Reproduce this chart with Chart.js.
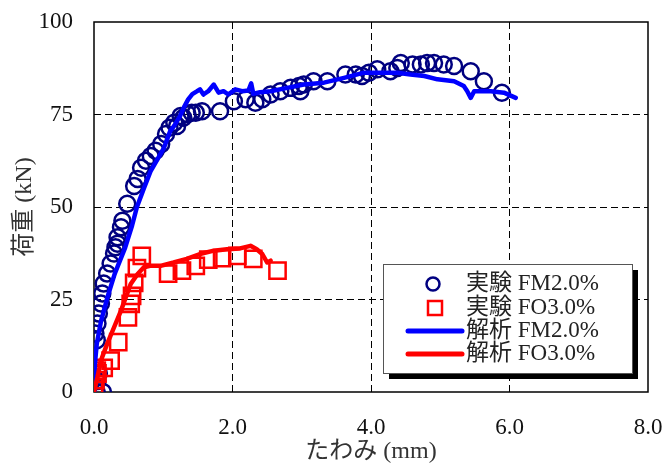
<!DOCTYPE html>
<html>
<head>
<meta charset="utf-8">
<script src="https://cdn.jsdelivr.net/npm/chart.js@4.4.1/dist/chart.umd.min.js"></script>
<style>
  html, body { margin: 0; padding: 0; background: #fff; }
  #wrap { width: 664px; height: 466px; }
</style>
</head>
<body>
<div id="wrap"><canvas id="c" width="664" height="466"></canvas></div>
<script>
// x = deflection (mm), y = load (kN)
const expFM = [
  [0.04, 0], [0.13, 0], [0.05, 3], [0.07, 5], [0.04, 14], [0.02, 15.8],
  [0.05, 18.5], [0.07, 21.2], [0.10, 23.9], [0.12, 26.6], [0.14, 29.3],
  [0.19, 32], [0.24, 34.7], [0.29, 37.4], [0.34, 40.1], [0.31, 39.1],
  [0.34, 41.8], [0.39, 44.5], [0.41, 46.3], [0.48, 50.9], [0.58, 55.7],
  [0.63, 57.6], [0.68, 60.6], [0.75, 62.5], [0.82, 63.8], [0.89, 65.2],
  [0.97, 67], [1.04, 69.7], [1.09, 71.4], [1.16, 72.8], [1.20, 71.9],
  [1.25, 74.6], [1.29, 74.1], [1.35, 75.1], [1.41, 75.5], [1.47, 75.5],
  [1.56, 75.9], [1.82, 75.9], [2.02, 78.6], [2.19, 79.1], [2.33, 78.2],
  [2.43, 79.1], [2.55, 80.4], [2.69, 81.3], [2.84, 82.2], [2.96, 82.7],
  [2.98, 81.3], [3.03, 83.1], [3.17, 84], [3.37, 84], [3.63, 85.8],
  [3.78, 85.8], [3.87, 85.4], [3.97, 86.3], [4.09, 87.2], [4.28, 86.7],
  [4.38, 87.6], [4.43, 88.9], [4.60, 88.5], [4.72, 88.5], [4.81, 88.9],
  [4.91, 88.9], [5.05, 88.5], [5.20, 88.1], [5.44, 86.7], [5.63, 84],
  [5.89, 80.9]
];

const expFO = [
  [0, 1.3], [0.02, 3.2], [0.05, 5], [0.04, 5.8], [0.14, 6.5], [0.24, 8.5],
  [0.35, 13.5], [0.49, 20.2], [0.53, 23.8], [0.55, 26], [0.58, 29.5],
  [0.62, 33.5], [0.69, 36.8], [1.07, 32], [1.27, 32.8], [1.47, 34.1],
  [1.65, 35.8], [1.85, 36.2], [2.07, 36.8], [2.30, 36], [2.65, 32.8]
];

const anaFM = [
  [0, 0], [0.01, 7], [0.04, 13], [0.10, 19], [0.20, 26], [0.30, 32],
  [0.45, 39], [0.55, 45], [0.62, 50], [0.72, 55], [0.82, 59.8], [0.92, 63],
  [1.01, 66], [1.10, 70.5], [1.16, 72], [1.24, 74.5], [1.30, 77],
  [1.36, 79.1], [1.42, 80.5], [1.49, 81.3], [1.53, 81.8], [1.58, 80.4],
  [1.65, 81.3], [1.73, 83.1], [1.80, 80.9], [1.87, 81.3], [1.94, 80.4],
  [2.04, 81.8], [2.14, 81.3], [2.23, 81.5], [2.27, 83.4], [2.30, 80.6],
  [2.40, 81], [2.55, 81.3], [2.79, 82.2], [3.03, 83.1], [3.32, 83.6],
  [3.61, 84.9], [3.90, 86.3], [4.38, 86.3], [4.57, 85.8], [4.77, 85.4],
  [4.96, 84.5], [5.20, 84.0], [5.34, 82.7], [5.39, 81.3], [5.44, 79.5],
  [5.49, 81.3], [5.73, 81.3], [5.92, 80.9], [6.09, 79.5]
];

const anaFO = [
  [0, 0], [0.05, 4], [0.10, 8.5], [0.19, 13], [0.29, 17.5], [0.39, 22],
  [0.46, 25.6], [0.53, 29.2], [0.63, 31.9], [0.72, 33.7], [0.81, 34.1],
  [0.96, 34.1], [1.15, 35], [1.34, 36], [1.53, 37.3], [1.73, 38.2],
  [1.92, 38.6], [2.11, 38.8], [2.26, 39.5], [2.35, 38.6], [2.43, 37.3],
  [2.50, 35], [2.55, 35.5]
];

const seriesNames = ["実験 FM2.0%", "実験 FO3.0%", "解析 FM2.0%", "解析 FO3.0%"];
const xTicks = [0, 2, 4, 6, 8];
const yTicks = [0, 25, 50, 75, 100];
const xTitle = "たわみ (mm)";
const yTitle = "荷重 (kN)";

const FONT = "'Liberation Serif', 'Times New Roman', 'Noto Sans CJK JP', serif";
const NAVY = "#000080";
const BLUE = "#0000ff";
const RED = "#ff0000";

function pts(arr) {
  return arr.map(p => ({ x: p[0], y: p[1] }));
}

// solid frame around plot, legend box with drop shadow
const framePlugin = {
  id: "frame",
  beforeDatasetsDraw(chart) {
    const a = chart.chartArea, ctx = chart.ctx;
    ctx.save();
    ctx.strokeStyle = "#000";
    ctx.lineWidth = 1.5;
    ctx.strokeRect(a.left, a.top, a.right - a.left, a.bottom - a.top);
    ctx.restore();
  },
  afterDraw(chart) {
    const ctx = chart.ctx;
    const bx = 383, by = 264, bw = 249, bh = 109;
    ctx.save();
    ctx.fillStyle = "#000";
    ctx.fillRect(bx + 6, by + 6, bw, bh);
    ctx.fillStyle = "#fff";
    ctx.fillRect(bx, by, bw, bh);
    ctx.strokeStyle = "#555";
    ctx.lineWidth = 1;
    ctx.strokeRect(bx + 0.5, by + 0.5, bw, bh);

    const rows = [284, 308, 331, 354];
    // circle
    ctx.strokeStyle = NAVY;
    ctx.lineWidth = 2.5;
    ctx.beginPath();
    ctx.arc(433, rows[0], 6.5, 0, Math.PI * 2);
    ctx.stroke();
    // square
    ctx.strokeStyle = RED;
    ctx.lineWidth = 2.5;
    ctx.strokeRect(428, rows[1] - 7, 14, 14);
    // lines
    ctx.lineCap = "round";
    ctx.lineWidth = 5;
    ctx.strokeStyle = BLUE;
    ctx.beginPath(); ctx.moveTo(408, rows[2]); ctx.lineTo(462, rows[2]); ctx.stroke();
    ctx.strokeStyle = RED;
    ctx.beginPath(); ctx.moveTo(408, rows[3]); ctx.lineTo(462, rows[3]); ctx.stroke();

    ctx.fillStyle = "#222";
    ctx.font = "23px " + FONT;
    ctx.textBaseline = "middle";
    ctx.textAlign = "left";
    seriesNames.forEach((s, i) => ctx.fillText(s, 466, rows[i]));
    ctx.restore();
  }
};

const gridColor = (ctx) => {
  const v = ctx.tick ? ctx.tick.value : null;
  if (v === null) return "rgba(0,0,0,0)";
  const sc = ctx.scale;
  if (v <= sc.min || v >= sc.max) return "rgba(0,0,0,0)";
  return "#000";
};

new Chart(document.getElementById("c"), {
  type: "scatter",
  data: {
    datasets: [
      {
        label: seriesNames[0], data: pts(expFM), order: 3,
        pointStyle: "circle", pointRadius: 8, pointBorderWidth: 2.5,
        borderColor: NAVY, backgroundColor: "rgba(0,0,0,0)", showLine: false
      },
      {
        label: seriesNames[1], data: pts(expFO), order: 2,
        pointStyle: "rect", pointRadius: 11.5, pointBorderWidth: 2.5,
        borderColor: RED, backgroundColor: "rgba(0,0,0,0)", showLine: false
      },
      {
        label: seriesNames[2], data: pts(anaFM), order: 1,
        showLine: true, borderColor: BLUE, borderWidth: 4.5, pointRadius: 0,
        tension: 0, borderJoinStyle: "round", borderCapStyle: "round"
      },
      {
        label: seriesNames[3], data: pts(anaFO), order: 0,
        showLine: true, borderColor: RED, borderWidth: 4.5, pointRadius: 0,
        tension: 0, borderJoinStyle: "round", borderCapStyle: "round"
      }
    ]
  },
  options: {
    responsive: false,
    animation: false,
    devicePixelRatio: 1,
    layout: { padding: { left: 0, right: 16, top: 22, bottom: 0 } },
    plugins: {
      legend: { display: false },
      tooltip: { enabled: false }
    },
    scales: {
      x: {
        type: "linear", min: 0, max: 8,
        afterBuildTicks: (s) => { s.ticks = xTicks.map(v => ({ value: v })); },
        afterFit: (s) => { s.height = 74; s.paddingLeft = 0; s.paddingRight = 0; },
        border: { display: false, dash: [7, 4] },
        grid: { color: gridColor, lineWidth: 1, drawTicks: false },
        ticks: {
          padding: 22, color: "#111", maxRotation: 0,
          font: { family: FONT, size: 23 },
          callback: (v) => Number(v).toFixed(1)
        },
        title: {
          display: true, text: xTitle, color: "#333",
          font: { family: FONT, size: 24 },
          padding: { top: 0, bottom: 0 }
        }
      },
      y: {
        type: "linear", min: 0, max: 100,
        afterBuildTicks: (s) => { s.ticks = yTicks.map(v => ({ value: v })); },
        afterFit: (s) => { s.width = 94; s.paddingTop = 0; s.paddingBottom = 0; },
        border: { display: false, dash: [7, 4] },
        grid: { color: gridColor, lineWidth: 1, drawTicks: false },
        ticks: {
          padding: 21, color: "#111",
          font: { family: FONT, size: 23 }
        },
        title: {
          display: true, text: yTitle, color: "#333",
          font: { family: FONT, size: 24 },
          padding: { top: 10, bottom: 0 }
        }
      }
    }
  },
  plugins: [framePlugin]
});
</script>
</body>
</html>
